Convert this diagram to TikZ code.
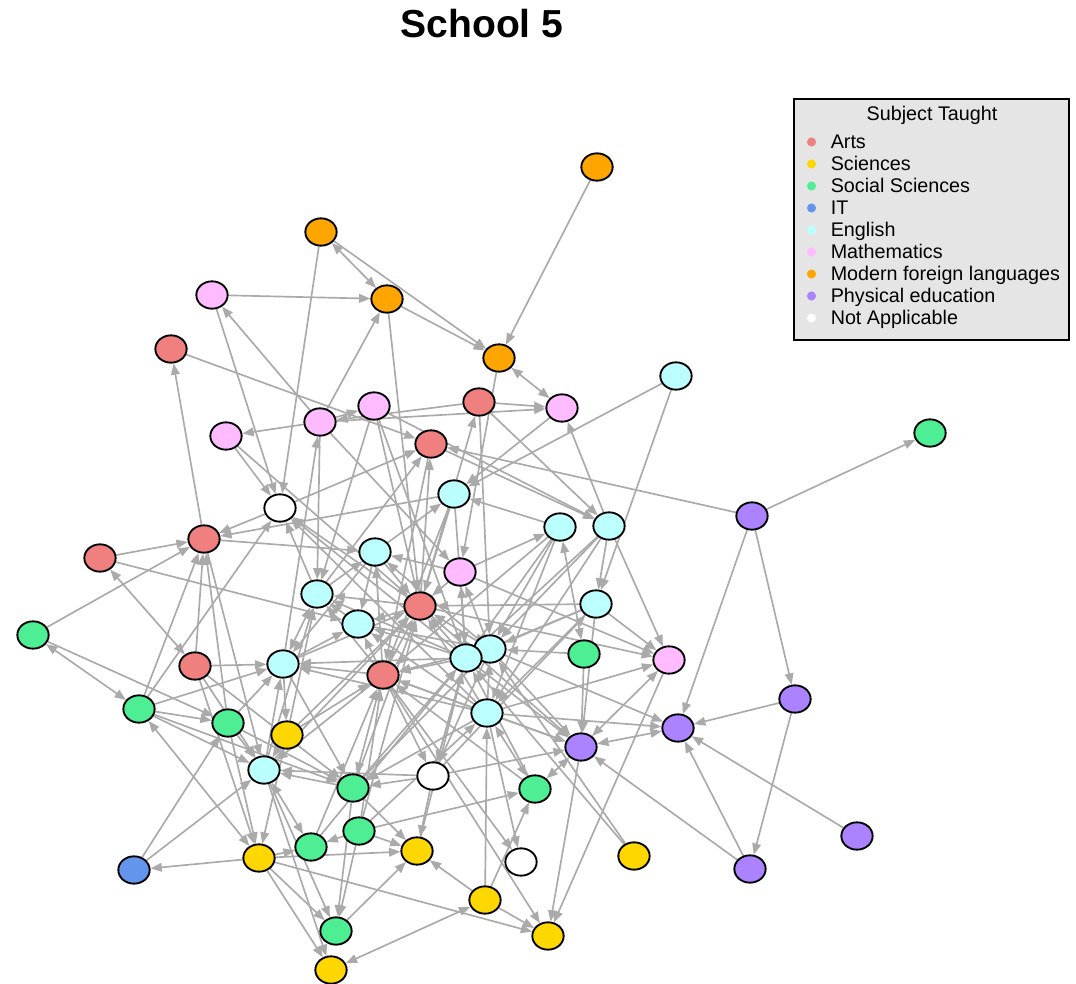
\documentclass[tikz,border=0pt]{standalone}
\usepackage{fontspec}
\setmainfont{Liberation Sans}
\usetikzlibrary{shapes.geometric,arrows.meta}
\pgfdeclarelayer{bg}
\pgfsetlayers{bg,main}
\definecolor{cArts}{RGB}{240,128,128}
\definecolor{cSci}{RGB}{255,215,0}
\definecolor{cSoc}{RGB}{78,238,148}
\definecolor{cIT}{RGB}{100,149,237}
\definecolor{cEng}{RGB}{187,255,255}
\definecolor{cMath}{RGB}{255,187,255}
\definecolor{cMFL}{RGB}{255,165,0}
\definecolor{cPE}{RGB}{171,130,255}
\definecolor{cNA}{RGB}{255,255,255}
\definecolor{edgegray}{RGB}{170,170,170}
\definecolor{legbg}{RGB}{229,229,229}
\begin{document}
\begin{tikzpicture}[x=0.75pt,y=-0.75pt,
  nd/.style={ellipse,draw=black,line width=1.4pt,minimum width=23.5pt,minimum height=20.5pt,inner sep=0pt},
  arts/.style={nd,fill=cArts},
  sci/.style={nd,fill=cSci},
  soc/.style={nd,fill=cSoc},
  itn/.style={nd,fill=cIT},
  eng/.style={nd,fill=cEng},
  mat/.style={nd,fill=cMath},
  mfl/.style={nd,fill=cMFL},
  pen/.style={nd,fill=cPE},
  nan/.style={nd,fill=cNA},
  ed/.style={draw=edgegray,line width=1.25pt,-{Triangle[length=8.5pt,width=6.5pt]}},
  eb/.style={draw=edgegray,line width=1.25pt,{Triangle[length=8.5pt,width=6.5pt]}-{Triangle[length=8.5pt,width=6.5pt]}},
  legtext/.style={font=\fontsize{14.8}{17}\selectfont,inner sep=0pt},
  legdot/.style={circle,inner sep=0pt,minimum size=6.8pt}
]
\useasboundingbox (0,0) rectangle (1076,984);

% title
\node[font=\fontsize{29.3}{34}\selectfont\bfseries,inner sep=0pt,anchor=base] (title) at (482,38) {School 5};

% nodes
\node[mfl] (O1) at (597,167) {};
\node[mfl] (O2) at (321,232) {};
\node[mfl] (O3) at (387,299) {};
\node[mfl] (O4) at (499,358) {};
\node[mat] (M1) at (212,295) {};
\node[mat] (M2) at (374,406) {};
\node[mat] (M3) at (320,422) {};
\node[mat] (M4) at (226,436) {};
\node[mat] (M5) at (562,408) {};
\node[mat] (M6) at (460,572) {};
\node[mat] (M7) at (669,660) {};
\node[arts] (A1) at (171,349) {};
\node[arts] (A2) at (479,402) {};
\node[arts] (A3) at (431,444) {};
\node[arts] (A4) at (204,539) {};
\node[arts] (A5) at (100,558) {};
\node[arts] (A6) at (420,606) {};
\node[arts] (A7) at (195,666) {};
\node[arts] (A8) at (383,675) {};
\node[eng] (E1) at (676,376) {};
\node[eng] (E2) at (454,494) {};
\node[eng] (E3) at (560,527) {};
\node[eng] (E4) at (609,526) {};
\node[eng] (E5) at (375,552) {};
\node[eng] (E6) at (317,594) {};
\node[eng] (E7) at (596,604) {};
\node[eng] (E8) at (358,624) {};
\node[eng] (E9) at (490,649) {};
\node[eng] (E10) at (466,658) {};
\node[eng] (E11) at (283,664) {};
\node[eng] (E12) at (487,713) {};
\node[eng] (E13) at (264,770) {};
\node[soc] (G1) at (930,433) {};
\node[soc] (G2) at (33,635) {};
\node[soc] (G3) at (584,654) {};
\node[soc] (G4) at (139,709) {};
\node[soc] (G5) at (228,723) {};
\node[soc] (G6) at (353,788) {};
\node[soc] (G7) at (535,789) {};
\node[soc] (G8) at (359,831) {};
\node[soc] (G9) at (311,847) {};
\node[soc] (G10) at (336,931) {};
\node[sci] (Y1) at (287,735) {};
\node[sci] (Y2) at (417,851) {};
\node[sci] (Y3) at (259,858) {};
\node[sci] (Y4) at (634,856) {};
\node[sci] (Y5) at (485,900) {};
\node[sci] (Y6) at (548,936) {};
\node[sci] (Y7) at (331,970) {};
\node[itn] (B1) at (134,870) {};
\node[nan] (W1) at (280,508) {};
\node[nan] (W2) at (433,776) {};
\node[nan] (W3) at (521,862) {};
\node[pen] (P1) at (752,516) {};
\node[pen] (P2) at (795,699) {};
\node[pen] (P3) at (678,728) {};
\node[pen] (P4) at (581,747) {};
\node[pen] (P5) at (857,836) {};
\node[pen] (P6) at (750,869) {};

% edges
\begin{pgfonlayer}{bg}
\foreach \a/\b in {O1/O4, O2/O4, O3/O4, M1/O3, O2/W1, M1/W1, A1/A3, A4/A1, M3/M1, M3/O3, M3/M4, A2/M3, M3/M2, M3/M5, A2/M5, O4/M6, O3/A6, M4/W1, M4/A6, W1/A4, E2/A4, W1/A3, A5/A4, G2/A4, A5/E8, G2/G5, G4/A4, A7/A4, G5/A4, A4/E13, G4/W1, A7/E11, A4/E5,
Y3/B1, B1/E13, B1/G5, G4/E13, G4/G5, G4/E11, G4/G6, G5/E13, G5/Y3, G5/E11, G5/G6, A7/Y3, A7/G6, A7/E13, E13/G10, E13/Y7, Y3/G10, Y3/Y7, Y3/G9, Y3/Y2, Y3/Y6, Y1/E13, Y1/Y3, E11/Y1, Y1/A8, E13/E11,
G8/G9, G8/Y2, G6/Y2, G10/Y2, Y5/Y2, Y5/G7, Y5/Y6, Y5/E12, E12/W3, A8/W3, G8/G7, G3/P4, P4/Y6, M7/Y6, W2/Y2, W2/P4, W2/G6, Y4/E10, Y4/E9, G6/G10, G8/G10, G9/A8, G8/A8, G8/E12, A8/G6, E11/G6, A8/E13, W2/E13, G6/E13, A8/W2, A8/Y6, G7/A8,
P1/A3, P1/G1, P1/P2, P1/P3, P2/P3, P2/P6, P6/P3, P6/P4, P5/P3, E9/P3, E12/P3, E1/E7, E1/E2, E4/M5, E4/E7, E4/M7, E7/M7, A3/E4, M6/E3, E7/A6, M6/M7, A6/M7, A2/E4, M5/E2, A6/A2, A2/E9, E3/E2, E6/A3, M2/E4,
M2/A6, M2/E6, M2/E10, M3/M6, M3/E6, E11/M3, E6/W1, A6/W1, E10/W1, E12/W1, E5/E2, M6/E5, A6/A3, E9/M6, E10/M6, G3/E9, E7/E10, E7/P4, A6/P4, A8/P4, E10/P4, E9/P4, E12/P4, E12/M7, W2/E7, E3/E12, E4/E10, E4/E12, E3/E10, E3/A8, A8/E5, A8/A6, A8/E11, A8/E8, A8/E6, E10/A8, E9/A8, E10/W2, E9/W2, E10/E8, E10/E6, E10/E11, E9/E5, E12/A6, E12/E8, E12/G6, E5/A6, E2/A6, M6/A6, E9/A6, E10/A6, G6/A6, Y1/A6, E13/A6, E11/A6, A6/E6, A6/E8, E6/E5, E8/E6, E11/E8, Y1/E6, E13/E6, E2/E10, E8/E9, E3/E9, E4/E9, E7/E9, E12/E9, E12/A8, E12/E11, G6/E10, G6/E9, W2/E10, G7/E10, E7/E12, Y2/E10, A3/A8, E2/A8, E5/E11, E5/E8, G8/A6, G9/E10}
  \draw[ed] (\a) -- (\b);
\foreach \a/\b in {O2/O3, O4/M5, A5/A7, G2/G4, G4/Y3, E13/G9, Y5/Y7, E12/G7, G7/P4, P3/P4, M7/P4, E3/G3, E6/E11}
  \draw[eb] (\a) -- (\b);
\end{pgfonlayer}

% legend
\draw[fill=legbg,draw=black,line width=1.1pt] (794,99) rectangle (1069,340);
\node[legtext,anchor=base] (legtitle) at (932,121) {Subject Taught};
\foreach \c/\t/\y [count=\i] in {cArts/Arts/142, cSci/Sciences/164, cSoc/Social Sciences/186, cIT/IT/208, cEng/English/230, cMath/Mathematics/252, cMFL/Modern foreign languages/274, cPE/Physical education/296, cNA/Not Applicable/318}{
  \node[legdot,fill=\c] (ld\i) at (811.5,\y) {};
  \node[legtext,anchor=base west] (lt\i) at (830.5,\y+7) {\t};
}
\end{tikzpicture}
\end{document}
